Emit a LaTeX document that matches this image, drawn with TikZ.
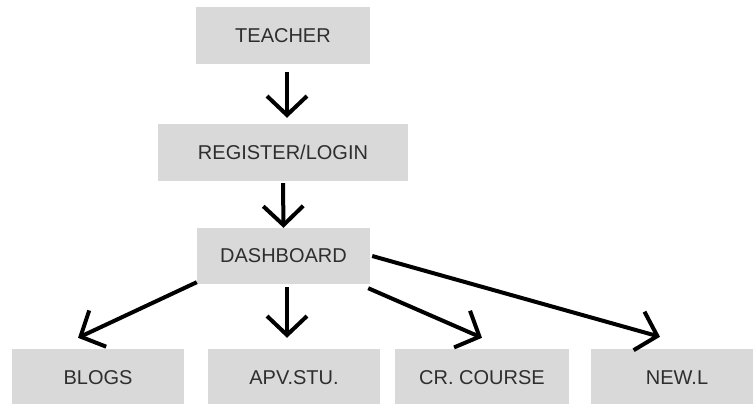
\documentclass[tikz,border=0pt]{standalone}
\usepackage{fontspec}
\setmainfont{Liberation Sans}
\usetikzlibrary{arrows.meta}
\definecolor{boxgray}{HTML}{D9D9D9}
\definecolor{txtgray}{HTML}{2E2E2E}
\tikzset{
  box/.style={fill=boxgray, draw=none, inner sep=0pt, text=txtgray,
    font=\fontsize{20}{23}\selectfont},
  arr/.style={line width=4pt, black,
    -{Straight Barb[length=19pt,width=40pt,line width=4pt]}}
}
\begin{document}
\begin{tikzpicture}[x=1pt,y=-1pt]
  \clip (0,0) rectangle (753,404);
  \fill[white] (0,0) rectangle (753,404);

  % top chain
  \node[box, minimum width=174pt, minimum height=57pt] (teacher)   at (283,35.5)  {TEACHER};
  \node[box, minimum width=250pt, minimum height=57pt] (register)  at (283,152.5) {REGISTER/LOGIN};
  \node[box, minimum width=173pt, minimum height=56pt] (dashboard) at (283.5,256) {DASHBOARD};

  % bottom row
  \node[box, minimum width=172pt, minimum height=57pt] (blogs)  at (98,377.5)  {BLOGS};
  \node[box, minimum width=172pt, minimum height=57pt] (apv)    at (294,377.5) {APV.STU.};
  \node[box, minimum width=174pt, minimum height=57pt] (course) at (482,377.5) {CR. COURSE};
  \node[box, minimum width=173pt, minimum height=57pt] (newl)   at (677,377.5) {NEW.L};

  % connectors
  \draw[arr] ([xshift=4pt,yshift=-8pt]teacher.south) -- ([xshift=4pt,yshift=6pt]register.north);
  \draw[arr] ([yshift=-2pt]register.south) -- (dashboard.north);
  \draw[arr] ([yshift=2pt]dashboard.south west) -- ([xshift=-20pt,yshift=11pt]blogs.north);
  \draw[arr] ([xshift=3.5pt,yshift=-3pt]dashboard.south) -- ([xshift=-7pt,yshift=11pt]apv.north);
  \draw[arr] ([xshift=-2pt,yshift=-4pt]dashboard.south east) -- ([yshift=11pt]course.north);
  \draw[arr] ([xshift=2pt]dashboard.east) -- ([xshift=-17pt,yshift=12pt]newl.north);
\end{tikzpicture}
\end{document}
